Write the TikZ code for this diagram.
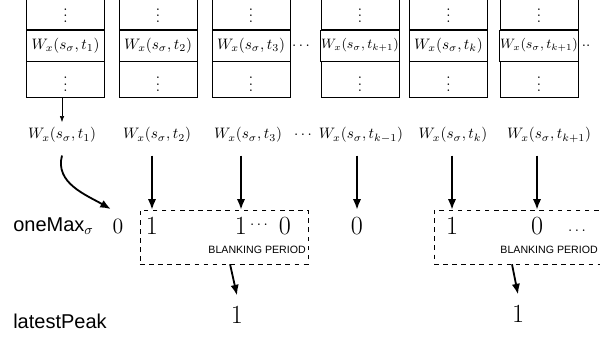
\documentclass[tikz,border=0pt]{standalone}
\usepackage{fontspec}
\newfontfamily\labelfont{Liberation Sans}
\usetikzlibrary{positioning,arrows.meta}

\begin{document}
\begin{tikzpicture}
		[x=0.66pt,y=-0.66pt,
		cell/.style = {draw, minimum width=51.5pt, minimum height=23.8pt, inner sep=1pt},
		midcell/.style = {draw, minimum width=51.5pt, minimum height=20.5pt, inner sep=0.5pt},
		value/.style = {font=\LARGE, inner sep=1pt},
		rowlabel/.style = {font=\labelfont\fontsize{13.2}{15}\selectfont, anchor=west, inner sep=0pt},
		blank/.style = {draw, dashed, minimum height=35.6pt},
		blanktext/.style = {font=\labelfont\scriptsize, anchor=east, inner sep=0pt},
		thinarrow/.style = {-{Latex[length=4pt,width=3pt]}},
		thickarrow/.style = {very thick, -{Latex[length=7pt,width=5.5pt]}}]
\useasboundingbox (0,0) rectangle (600,339);
\clip (0,0) rectangle (600,339);
% memory columns
\foreach \i/\x/\lbl in {1/65.5/{$W_x(s_\sigma,t_1)$},
		2/158/{$W_x(s_\sigma,t_2)$},
		3/251/{$W_x(s_\sigma,t_3)$},
		4/360/{\small$W_x(s_\sigma,t_{k+1})$},
		5/448.5/{$W_x(s_\sigma,t_k)$},
		6/539/{\small$W_x(s_\sigma,t_{k+1})$}}
{
	\node[midcell] (m\i) at (\x,45.5) {\lbl};
	\node[cell, above=0pt of m\i] (a\i) {$\vdots$};
	\node[cell, below=0pt of m\i] (b\i) {$\vdots$};
}
\node (mdots) at (301,46) {$\cdots$};
\node (mend) at (586,46) {$\cdot\cdot$};
% samples
\foreach \i/\x/\lbl in {1/62/{$W_x(s_\sigma,t_1)$},
		2/157/{$W_x(s_\sigma,t_2)$},
		3/248/{$W_x(s_\sigma,t_3)$},
		4/361/{$W_x(s_\sigma,t_{k-1})$},
		5/453/{$W_x(s_\sigma,t_k)$},
		6/549/{$W_x(s_\sigma,t_{k+1})$}}
{
	\node (v\i) at (\x,135) {\lbl};
}
\node (vdots) at (303,135) {$\cdots$};
\draw[thinarrow] (b1.south -| v1.north) -- (v1.north);
% oneMax row
\node[rowlabel] (onemax) at (13,226) {oneMax$_\sigma$};
\node[value, font=\Large] (z0) at (118,226) {0};
\node[value] (p1) at (152,226) {1};
\node[value] (p2) at (241,226) {1};
\node (pdots) at (259,225) {$\cdots$};
\node[value] (p3) at (285,226) {0};
\node[value] (p4) at (357,226) {0};
\node[value] (p5) at (452,226) {1};
\node[value] (p6) at (537,226) {0};
\node (pend) at (577,231) {$\ldots$};
\node[blank, minimum width=110.9pt] (bp1) at (224,237) {};
\node[blank, minimum width=111.5pt] (bp2) at (518.5,237) {};
\node[blanktext] at (306,250) {BLANKING PERIOD};
\node[blanktext] at (598,250) {BLANKING PERIOD};
% latestPeak row
\node[rowlabel] (latest) at (13,321) {latestPeak};
\node[value] (l1) at (237,315) {1};
\node[value] (l2) at (518,314) {1};
% arrows
\draw[thickarrow] ([yshift=-5pt]v1.south) to[out=-105,in=150] ([yshift=5pt]z0.north west);
\foreach \v/\p in {2/1,3/2,4/4,5/5,6/6}
{
	\draw[thickarrow] ([yshift=-5pt]v\v.south -| p\p) -- (bp1.north -| p\p);
}
\draw[thickarrow] ([xshift=4pt]bp1.south) -- ([yshift=6pt]l1.north);
\draw[thickarrow] ([xshift=-4.3pt]bp2.south) -- ([yshift=6pt]l2.north);
\end{tikzpicture}
\end{document}
